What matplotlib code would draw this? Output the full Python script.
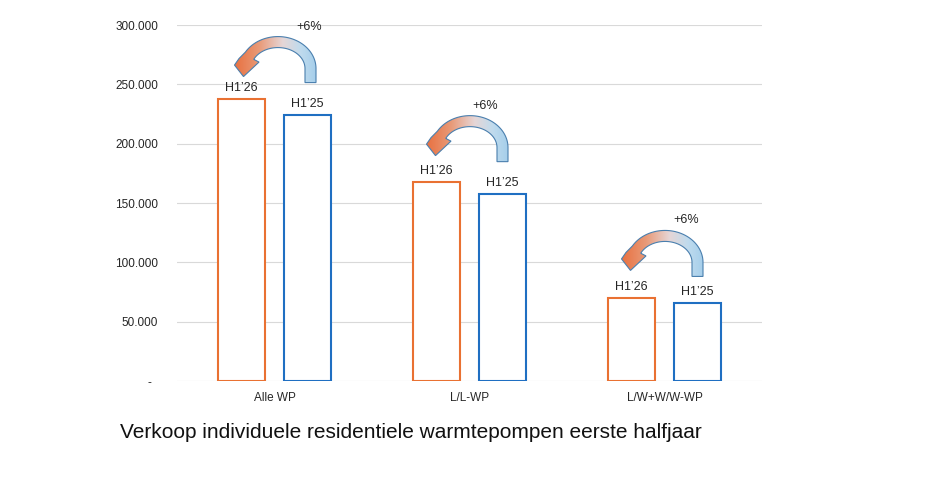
import matplotlib
matplotlib.use("Agg")
import matplotlib.pyplot as plt
import numpy as np
from matplotlib.patches import PathPatch
from matplotlib.path import Path
import matplotlib.transforms as mtransforms
from matplotlib.colors import LinearSegmentedColormap

# ---------------- data ----------------
categories = ["Alle WP", "L/L-WP", "L/W+W/W-WP"]
h1_26 = [238000, 168000, 70000]
h1_25 = [224000, 157500, 66000]
series_labels = ["H1\u201926", "H1\u201925"]
growth_labels = ["+6%", "+6%", "+6%"]
yticks = [0, 50000, 100000, 150000, 200000, 250000, 300000]
ytick_labels = ["-  ", "50.000", "100.000", "150.000", "200.000", "250.000", "300.000"]
title = "Verkoop individuele residentiele warmtepompen eerste halfjaar"

# ---------------- style ----------------
ORANGE = "#E97132"
BLUE = "#1F6FC2"
GRID = "#D9D9D9"
TXT = "#262626"
OUTLINE = "#4A7FAE"
growth_dx_px = [35, 16, 22]     # horizontal position of growth label (px from group centre)
arrow_dx_px = [3, 0, 0]         # small horizontal nudges of arrows (px)
arrow_dy_px = [-4, 0, 1.5]      # small vertical nudges of arrows (px)

plt.rcParams['font.family'] = ['Liberation Sans', 'DejaVu Sans']

fig = plt.figure(figsize=(9.44, 5.01), dpi=100)
ax = fig.add_axes([177/944, 120/501, 585/944, 356/501])

x = np.arange(len(categories))
off = 0.169
w = 0.243
ax.bar(x - off, h1_26, width=w, facecolor="white", edgecolor=ORANGE, linewidth=1.5, zorder=2)
ax.bar(x + off, h1_25, width=w, facecolor="white", edgecolor=BLUE, linewidth=1.5, zorder=2)

for i in range(len(categories)):
    ax.annotate(series_labels[0], xy=(x[i] - off, h1_26[i]), xytext=(0, 3.5),
                textcoords="offset points", ha="center", va="bottom",
                fontsize=9, color=TXT)
    ax.annotate(series_labels[1], xy=(x[i] + off, h1_25[i]), xytext=(0, 3.5),
                textcoords="offset points", ha="center", va="bottom",
                fontsize=9, color=TXT)

# ---------------- curved gradient arrows ----------------
cmap = LinearSegmentedColormap.from_list(
    "arr", [(0.0, "#E8703F"), (0.3, "#E99A78"), (0.58, "#E6D6D6"),
            (0.8, "#BFDBEE"), (1.0, "#A3CDEA")])

def arrow_path():
    cx, cy = 0.5, 34.0
    ao, bo = 38.0, 32.0
    ai, bi = 27.0, 21.0
    to = np.radians(np.linspace(0, 149, 80))
    ti = np.radians(np.linspace(0, 154, 80))
    outer = np.column_stack([cx + ao*np.cos(to), cy + bo*np.sin(to)])
    inner = np.column_stack([cx + ai*np.cos(ti), cy + bi*np.sin(ti)])[::-1]
    verts = [(38.5, 20.0)]
    verts += outer.tolist()
    verts += [(-38.5, 44.0), (-43.0, 37.5), (-34.0, 26.0), (-18.5, 40.5)]
    verts += inner.tolist()
    verts += [(27.5, 20.0), (38.5, 20.0)]
    codes = [Path.MOVETO] + [Path.LINETO]*(len(verts)-2) + [Path.CLOSEPOLY]
    return Path(verts, codes)

grad = np.linspace(0, 1, 256).reshape(1, -1)
for i in range(len(categories)):
    s = fig.dpi/100.0
    trans = (mtransforms.Affine2D().scale(s).translate(arrow_dx_px[i]*s, arrow_dy_px[i]*s)
             + mtransforms.ScaledTranslation(x[i], h1_26[i], ax.transData))
    patch = PathPatch(arrow_path(), transform=trans, facecolor="none",
                      edgecolor=OUTLINE, linewidth=0.8, zorder=5, clip_on=False)
    ax.add_patch(patch)
    im = ax.imshow(grad, extent=(-44, 39.5, 19, 67), transform=trans, cmap=cmap,
                   aspect="auto", zorder=4, interpolation="bilinear")
    im.set_clip_path(patch)
    ax.annotate(growth_labels[i], xy=(x[i], h1_26[i]),
                xytext=(growth_dx_px[i]*0.72, (76 + arrow_dy_px[i])*0.72),
                textcoords="offset points", ha="center", va="center",
                fontsize=9, color=TXT)

# ---------------- axes ----------------
ax.set_xlim(-0.5, len(categories) - 0.5)
ax.set_ylim(0, 300000)
ax.set_yticks(yticks)
ax.set_yticklabels(ytick_labels)
ax.set_xticks(x)
ax.set_xticklabels(categories)
ax.yaxis.grid(True, color=GRID, linewidth=0.8)
ax.set_axisbelow(True)
for sp in ax.spines.values():
    sp.set_visible(False)
ax.tick_params(axis="y", length=0, pad=13.5, labelsize=8.5, labelcolor=TXT)
ax.tick_params(axis="x", length=0, pad=8, labelsize=8.5, labelcolor=TXT)

fig.text(120/944, (501-433)/501, title, fontsize=15, ha="left", va="center", color="#111111")

fig.savefig("out.png", dpi=100, facecolor="white")
